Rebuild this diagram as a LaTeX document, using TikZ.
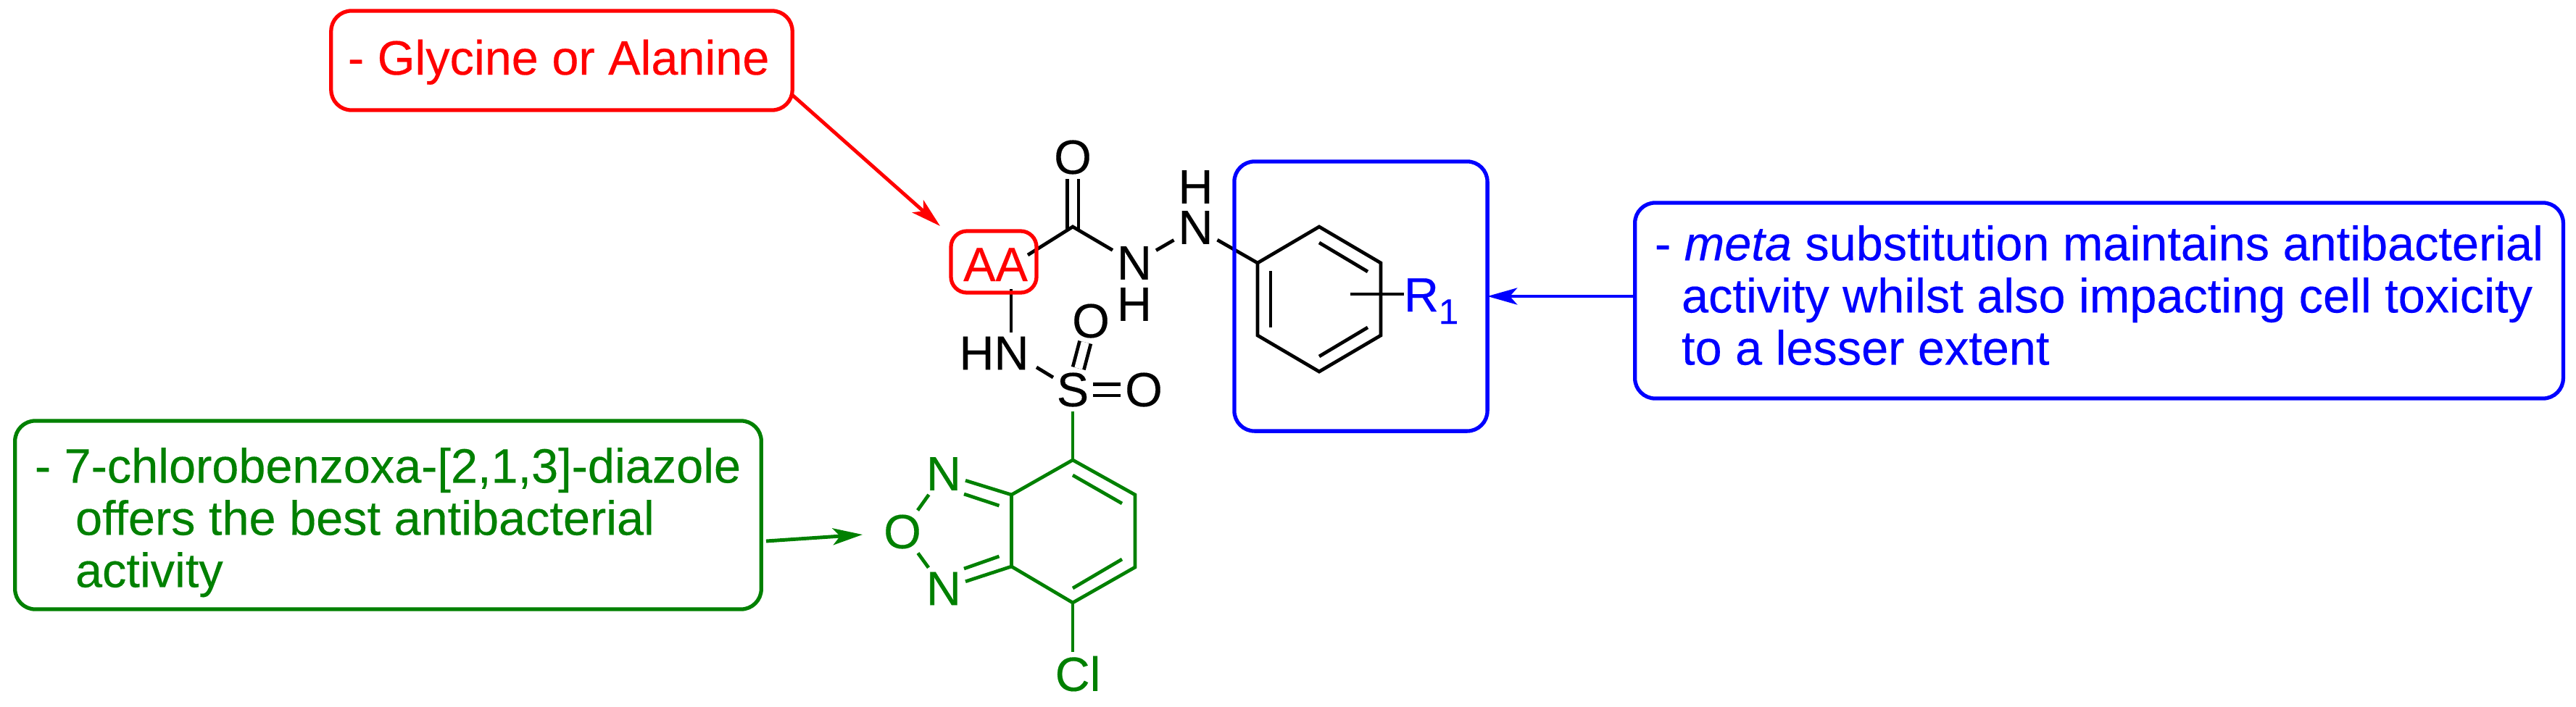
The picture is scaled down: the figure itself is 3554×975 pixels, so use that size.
\documentclass[tikz,border=0pt]{standalone}
\usepackage{fontspec}
\setmainfont[FakeBold=0.25]{Liberation Sans}
\usetikzlibrary{arrows.meta}
\definecolor{aared}{RGB}{255,0,0}
\definecolor{ringblue}{RGB}{0,0,255}
\definecolor{diazgreen}{RGB}{0,128,0}
\tikzset{
    bond/.style={line width=1.35pt},
    dbond/.style={line width=1.35pt, double, double distance=0.11cm},
    atom/.style={inner sep=0.06cm, outer sep=0pt, font=\fontsize{18.9}{20.5}\selectfont},
    callout/.style={draw, line width=1.5pt, rounded corners=0.28cm, inner sep=0pt, outer sep=0pt},
    note/.style={inner sep=0pt, outer sep=0pt, align=left, font=\fontsize{18.95}{20.5}\selectfont},
    pointer/.style={line width=1.4pt, -{Stealth[length=0.41cm, width=0.23cm, inset=0.1cm]}}
}

\begin{document}
\begin{tikzpicture}[x=0.01cm, y=-0.01cm]
        \useasboundingbox (0,0) rectangle (3554,975);
        \coordinate (cone) at (1480,313);
        \coordinate (conefoot) at (1480,318);
        \coordinate (aaend) at (1418,352);
        \coordinate (aabot) at (1395,399);
        \coordinate (hnend) at (1430,507);
        \coordinate (send) at (1453,521);
        \coordinate (ra) at (1735,363);
        \coordinate (rb) at (1820,313);
        \coordinate (rc) at (1905,363);
        \coordinate (rd) at (1905,463);
        \coordinate (re) at (1820,513);
        \coordinate (rf) at (1735,463);
        \coordinate (subst) at (1863,406);
        \coordinate (ga) at (1480,635);
        \coordinate (gb) at (1566,683);
        \coordinate (gc) at (1566,783);
        \coordinate (gd) at (1480,832);
        \coordinate (ge) at (1395.5,782);
        \coordinate (gf) at (1395.5,683);
        \coordinate (glytail) at (1093,131);
        \coordinate (glytip) at (1297,312);
        \coordinate (greentail) at (1057,747);
        \coordinate (greentip) at (1190,738);

        \node[atom] (otop) at (1480,217) {O};
        \node[atom] (nlow) at (1565,363) {N};
        \node[atom] (hlow) at (1565,420) {H};
        \node[atom] (nup) at (1649.5,314) {N};
        \node[atom] (hup) at (1649.5,258) {H};
        \node[atom] (hn) at (1371.5,487.5) {HN};
        \node[atom] (sul) at (1480,538) {S};
        \node[atom] (oright) at (1578,538) {O};
        \node[atom] (oup) at (1505,443) {O};

        \draw[dbond] (conefoot) -- (otop);
        \draw[bond] (aaend) -- (cone) -- (nlow);
        \draw[bond] (nlow) -- (nup);
        \draw[bond] (nup) -- (ra);
        \draw[bond] (aabot) -- (aabot |- hn.north);
        \draw[bond] (hnend) -- (send);
        \draw[dbond] (sul) -- (oup);
        \draw[dbond] (sul) -- (oright);
        \draw[bond] (ra) -- (rb) -- (rc) -- (rd) -- (re) -- (rf) -- cycle;
        \draw[bond] (1753,374) -- (1753,452);
        \draw[bond] (1820,335) -- (1887,375);
        \draw[bond] (1887,452) -- (1820,492);

        \node[atom, inner sep=0pt, anchor=base west, text=ringblue] (rone) at (1937,430) {R\raisebox{-0.17cm}{\fontsize{13.9}{15}\selectfont 1}};
        \draw[bond] (subst) -- (rone.west |- subst);

        \node[callout, draw=aared, rounded corners=0.22cm, minimum width=1.18cm, minimum height=0.85cm] (aabox) at (1371,361.5) {};
        \node[atom, inner sep=0pt, anchor=base, text=aared] (aa) at (1373.5,388) {AA};

        \begin{scope}[diazgreen]
            \node[atom] (nga) at (1302,654) {N};
            \node[atom] (ngb) at (1302,812.5) {N};
            \node[atom] (ogreen) at (1245,734) {O};
            \node[atom] (cl) at (1487,930) {Cl};
            \draw[bond] (sul) -- (ga);
            \draw[bond] (ga) -- (gb) -- (gc) -- (gd) -- (ge) -- (gf) -- cycle;
            \draw[bond] (1480,656) -- (1548,695);
            \draw[bond] (1548,772) -- (1480,812);
            \draw[bond] (gd) -- (gd |- cl.north);
            \draw[bond] (gf) -- (nga);
            \draw[bond] (ge) -- (ngb);
            \draw[bond] (1378.5,698) -- (1330,682);
            \draw[bond] (1378.5,768) -- (1330,785);
            \draw[bond] (ogreen) -- (nga);
            \draw[bond] (ogreen) -- (ngb);
        \end{scope}

        \node[callout, draw=aared, minimum width=6.36cm, minimum height=1.37cm] (glybox) at (775,83.5) {};
        \node[note, anchor=base west, text=aared] (glytext) at (480,103) {- Glycine or Alanine};
        \draw[pointer, aared] (glytail) -- (glytip);

        \node[callout, draw=diazgreen, minimum width=10.29cm, minimum height=2.6cm] (greenbox) at (535.5,711) {};
        \node[note, anchor=north west, text=diazgreen] (greentext) at (48,618) {- 7-chlorobenzoxa-[2,1,3]-diazole\\ \hspace*{0.56cm}offers the best antibacterial\\ \hspace*{0.56cm}activity};
        \draw[pointer, diazgreen] (greentail) -- (greentip);

        \node[callout, draw=ringblue, minimum width=3.49cm, minimum height=3.72cm] (ringbox) at (1877.5,409) {};
        \node[callout, draw=ringblue, minimum width=12.8cm, minimum height=2.7cm] (metabox) at (2896,415) {};
        \node[note, anchor=north west, text=ringblue] (metatext) at (2283,311) {- \textit{meta} substitution maintains antibacterial\\ \hspace*{0.37cm}activity whilst also impacting cell toxicity\\ \hspace*{0.37cm}to a lesser extent};
        \draw[pointer, ringblue] (metabox.west |- ringbox.east) -- (ringbox.east);
    \end{tikzpicture}
\end{document}
